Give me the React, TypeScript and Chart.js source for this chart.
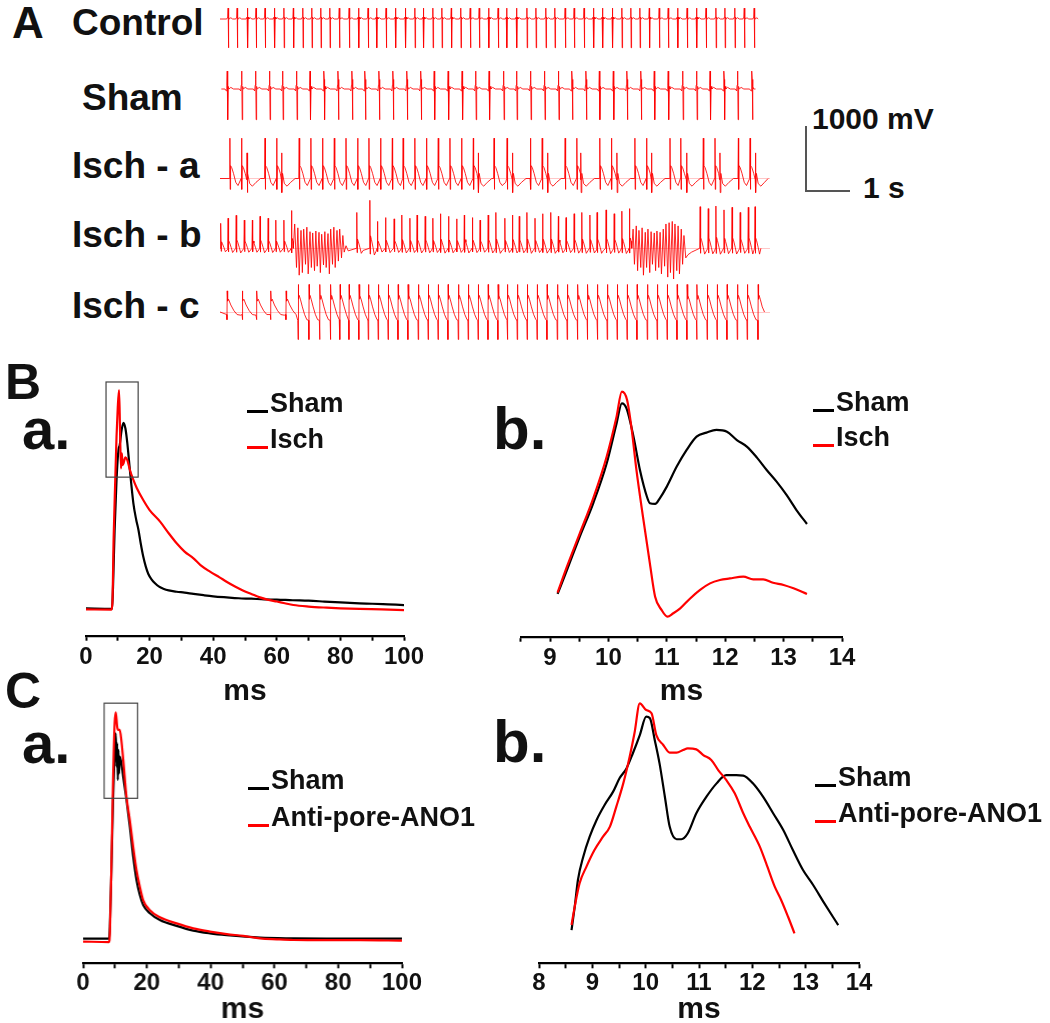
import React, { useEffect, useRef } from "react";
import { Chart, registerables } from "chart.js";

Chart.register(...registerables);

const FONT = '"Liberation Sans", Arial, Helvetica, sans-serif';
type Pt = [number, number];

// ---------- Panel A: ECG traces (time in s, amplitude in mV) ----------
const controlBeats = [0.18,0.38,0.61,0.80,1.00,1.21,1.42,1.63,1.84,2.04,2.24,2.44,2.65,2.87,3.08,3.29,3.48,3.69,3.90,4.12,4.33,4.52,4.73,4.93,5.14,5.35,5.56,5.76,5.97,6.18,6.37,6.59,6.82,7.02,7.24,7.44,7.67,7.87,8.09,8.30,8.50,8.72,8.93,9.13,9.33,9.54,9.76,9.96,10.17,10.38,10.59,10.80,11.02,11.22,11.44,11.65,11.87];
const shamBeats = [0.16,0.48,0.79,1.10,1.39,1.70,2.00,2.31,2.62,2.93,3.22,3.53,3.84,4.15,4.46,4.76,5.07,5.38,5.68,5.98,6.30,6.59,6.90,7.21,7.52,7.82,8.13,8.43,8.74,9.04,9.35,9.65,9.96,10.28,10.59,10.89,11.20,11.50,11.82];
const ischATall = [0.22,0.48,1.00,1.26,1.76,2.02,2.28,2.54,2.80,3.06,3.31,3.57,3.83,4.07,4.33,4.59,4.85,5.11,5.37,5.63,6.09,6.38,6.90,7.16,7.67,7.93,8.44,8.70,9.22,9.48,10.00,10.24,10.74,11.00,11.52,11.78];
const ischAShort = [0.60,1.37,5.74,6.50,7.28,8.02,8.82,9.59,10.37,11.11,11.90];
const ischBBeats = [0.02,0.18,0.36,0.54,0.72,0.89,1.07,1.24,1.42,1.59,3.04,3.33,3.50,3.68,3.87,4.04,4.22,4.38,4.56,4.73,4.90,5.08,5.26,5.43,5.61,5.78,5.96,6.13,6.33,6.50,6.65,6.82,7.00,7.17,7.35,7.52,7.69,7.87,8.04,8.22,8.38,8.58,8.76,8.93,9.10,10.67,10.85,11.02,11.20,11.38,11.56,11.74,11.89];
const ischBPeaks = [390,470,515,440,440,500,470,440,440,590,560,750,420,480,460,520,470,520,500,470,540,500,460,520,480,440,520,560,470,520,500,560,470,540,560,500,480,540,560,520,560,600,540,580,620,650,620,660,600,640,560,640,650];
const ischBFib1: Pt[] = [[1.63,0],[1.66,380],[1.70,-300],[1.73,320],[1.76,-420],[1.80,280],[1.83,-380],[1.86,300],[1.90,-250],[1.93,330],[1.96,-400],[2.00,260],[2.03,-300],[2.06,240],[2.10,-350],[2.13,270],[2.16,-280],[2.20,250],[2.23,-380],[2.26,220],[2.30,-260],[2.33,260],[2.36,-300],[2.40,230],[2.43,-400],[2.46,300],[2.50,-250],[2.53,330],[2.56,-300],[2.60,280],[2.63,-200],[2.66,300],[2.70,-150],[2.73,200],[2.76,-60],[2.80,40],[2.85,-40]];
const ischBFib2: Pt[] = [[9.15,0],[9.18,300],[9.21,-250],[9.25,350],[9.28,-350],[9.31,280],[9.35,-300],[9.38,320],[9.41,-420],[9.45,250],[9.48,-300],[9.51,300],[9.55,-380],[9.58,260],[9.61,-250],[9.65,240],[9.68,-350],[9.71,270],[9.75,-300],[9.78,250],[9.81,-400],[9.85,300],[9.88,-280],[9.91,380],[9.95,-450],[9.98,400],[10.01,-380],[10.05,420],[10.08,-480],[10.11,380],[10.15,-350],[10.18,350],[10.21,-400],[10.25,300],[10.28,-250],[10.31,200],[10.35,-150],[10.40,-100],[10.48,-60]];
const ischCEarly = [0.16,0.50,0.82,1.13,1.47];
const ischCBeats = [1.74,1.98,2.22,2.46,2.67,2.87,3.09,3.30,3.52,3.74,3.96,4.18,4.41,4.63,4.85,5.07,5.30,5.52,5.74,5.96,6.18,6.39,6.61,6.83,7.05,7.27,7.50,7.72,7.95,8.17,8.39,8.61,8.83,9.05,9.27,9.50,9.72,9.94,10.16,10.38,10.60,10.83,11.05,11.27,11.50,11.72,11.96];

// beat wave shapes: [offset s, mV]
const controlWave: Pt[] = [[-0.03,0],[-0.008,30],[0,170],[0.007,-450],[0.016,30],[0.03,0],[0.06,20],[0.1,0]];
const shamWave: Pt[] = [[-0.05,0],[-0.02,-30],[-0.008,60],[0,280],[0.008,150],[0.014,-480],[0.024,40],[0.04,0],[0.08,25],[0.14,0]];
const ischATallWave: Pt[] = [[-0.01,0],[0,630],[0.006,-170],[0.015,200],[0.04,170],[0.08,80],[0.13,-60],[0.18,-110],[0.26,-60],[0.36,-10]];
const ischAShortWave: Pt[] = [[-0.006,-20],[0,400],[0.006,-220],[0.02,80],[0.06,-80],[0.12,-120],[0.2,-60],[0.3,0]];
const ischBWave: Pt[] = [[-0.01,0],[0,500],[0.006,-60],[0.015,130],[0.035,90],[0.07,10],[0.1,-70],[0.14,-30]];
const ischCEarlyWave: Pt[] = [[-0.01,-40],[-0.005,-120],[0,330],[0.01,170],[0.03,200],[0.08,110],[0.15,20],[0.22,-40],[0.3,-50]];
const ischCWave: Pt[] = [[-0.012,-130],[-0.005,-430],[0,430],[0.008,200],[0.02,260],[0.05,190],[0.09,80],[0.14,-40],[0.19,-120]];

// recording spans (s)
const controlSpan: Pt = [0.0, 11.96];
const shamSpan: Pt = [0.03, 11.9];
const ischASpan: Pt = [0.0, 12.18];
const ischBSpan: Pt = [0.0, 12.02];
const ischCSpan: Pt = [0.0, 12.1];

// ---------- Panels B & C: action potentials (ms, normalized amplitude) ----------
const baSham: Pt[] = [[0,0],[8.2,-0.2],[8.5,9.9],[9.0,35.9],[9.6,58.8],[10.2,72.5],[10.6,74.8],[11.2,81.7],[11.8,85.0],[12.4,82.4],[13.0,75.6],[13.8,63.4],[14.9,48.1],[15.8,40.5],[16.5,35.9],[17.2,29.8],[18.0,23.7],[18.8,19.1],[19.6,15.7],[20.6,13.3],[21.7,11.5],[23,9.9],[24.3,9.0],[26,8.2],[28.5,7.6],[31,7.2],[33.8,6.6],[37,6.0],[40,5.5],[44.2,5.0],[48,4.6],[52,4.4],[56,4.1],[60,4.0],[65,3.7],[70,3.5],[75,3.1],[80,2.7],[86,2.3],[90,2.1],[95,1.8],[100,1.5]];
const baIsch: Pt[] = [[0,-0.5],[8.0,-0.6],[8.3,2.3],[8.7,32.8],[9.2,58.8],[9.6,78.6],[10.0,92.4],[10.4,100],[10.7,81.7],[11.0,64.1],[11.3,71.0],[11.5,65.6],[11.8,66.4],[12.4,69.2],[13.0,67.9],[13.8,63.4],[14.9,58.8],[16,55.0],[18,49.6],[20,45.0],[23.3,39.7],[26,34.4],[28.5,29.8],[31,26.0],[33.8,22.9],[36,19.8],[39,16.8],[42,14.2],[44.2,12.2],[47,9.9],[49.5,8.1],[52,6.6],[54.7,5.0],[57,4.0],[60,3.1],[62.5,2.3],[65.2,1.5],[70,0.8],[75.7,0.3],[80,0],[86,-0.3],[93,-0.5],[100,-0.8]];
const bbSham: Pt[] = [[9.13,10.1],[9.29,20.7],[9.51,35.6],[9.74,50.4],[9.97,68.1],[10.14,85.9],[10.23,94.8],[10.31,92.6],[10.43,80.0],[10.54,65.2],[10.66,53.3],[10.71,50.4],[10.80,50.1],[10.88,52.6],[11.00,57.8],[11.17,66.7],[11.34,74.1],[11.51,80.0],[11.68,81.8],[11.85,83.0],[12.03,82.2],[12.20,78.5],[12.37,75.6],[12.54,70.8],[12.71,65.2],[12.88,60.0],[13.05,54.1],[13.22,47.4],[13.40,41.2]];
const bbIsch: Pt[] = [[9.13,10.7],[9.29,22.2],[9.51,37.0],[9.74,52.6],[9.97,71.1],[10.14,88.9],[10.23,100],[10.32,96.3],[10.40,83.0],[10.48,65.2],[10.60,43.0],[10.71,23.7],[10.80,8.9],[10.91,3.0],[11.01,0],[11.11,1.5],[11.23,3.7],[11.40,8.1],[11.57,11.9],[11.74,14.8],[11.91,16.3],[12.08,17.0],[12.31,17.8],[12.48,16.6],[12.65,16.6],[12.82,15.1],[13.00,14.1],[13.17,12.6],[13.40,10.1]];
const caSham: Pt[] = [[0,0.3],[8.17,0.3],[8.4,5.6],[8.9,32.0],[9.4,61.4],[9.95,84.9],[10.26,90.7],[10.5,76.1],[10.7,86.3],[10.9,70.2],[11.1,83.4],[11.3,73.1],[11.52,80.5],[12.04,77.5],[12.57,71.7],[13.61,61.4],[14.66,49.6],[15.71,36.4],[16.75,26.1],[17.8,19.5],[18.85,15.1],[20.94,11.5],[24.08,8.5],[29.32,5.9],[34.55,3.8],[39.79,2.6],[45.03,1.8],[55.5,0.7],[65.97,0.4],[76.44,0.3],[86.91,0.3],[100,0.3]];
const caAnti: Pt[] = [[0,-1.0],[8.1,-1.2],[8.4,2.6],[8.9,33.5],[9.4,70.2],[9.9,95.2],[10.26,100],[10.7,93.7],[11.0,92.2],[11.5,92.2],[12.0,87.8],[12.6,79.0],[13.6,62.8],[14.66,52.5],[15.71,40.8],[16.75,30.5],[17.8,23.2],[18.85,17.3],[20.94,12.8],[24.08,9.7],[29.32,7.0],[34.55,4.8],[39.79,3.4],[45.03,2.3],[50.26,1.5],[55.5,0.4],[60.73,0],[65.97,-0.3],[76.44,-0.4],[86.91,-0.4],[100,-0.6]];
const cbSham: Pt[] = [[8.61,1.4],[8.67,11.6],[8.73,23.2],[8.83,33.3],[8.95,42.0],[9.08,49.3],[9.23,55.8],[9.39,61.6],[9.51,67.4],[9.64,71.7],[9.76,78.3],[9.89,86.2],[10.01,94.2],[10.08,93.5],[10.17,84.1],[10.26,73.9],[10.36,59.4],[10.45,46.4],[10.58,40.9],[10.67,40.9],[10.79,43.5],[10.95,52.2],[11.14,59.4],[11.33,65.2],[11.51,68.8],[11.70,68.8],[11.83,68.6],[12.01,65.2],[12.20,59.4],[12.39,52.2],[12.58,44.9],[12.76,36.2],[12.95,27.5],[13.14,21.0],[13.33,13.8],[13.51,7.2],[13.61,3.6]];
const cbAnti: Pt[] = [[8.61,3.6],[8.67,11.6],[8.76,21.7],[8.89,29.0],[9.04,36.2],[9.20,42.0],[9.33,46.4],[9.45,55.1],[9.58,65.2],[9.70,76.8],[9.79,87.0],[9.89,100],[10.01,97.1],[10.11,95.7],[10.20,86.2],[10.33,81.9],[10.45,78.6],[10.58,78.6],[10.70,79.7],[10.79,80.4],[10.95,80.0],[11.08,77.5],[11.23,75.4],[11.36,71.0],[11.51,66.7],[11.67,60.9],[11.83,52.2],[11.95,46.4],[12.14,37.7],[12.26,30.4],[12.42,20.3],[12.54,14.5],[12.67,7.2],[12.79,0]];

// zoom boxes [x0, x1, y0, y1]
const baBox = [6.3, 16.4, 60.1, 103.7];
const caBox = [6.6, 17.1, 62.1, 104.0];

// ---------- helpers ----------
const MV_PER_PX = 1000 / 64;
const S_PER_PX = 1 / 45;

type Ev = { t: number; pts: Pt[]; k: number };

function beatsToEvents(times: number[], wave: Pt[], peaks?: number[], ref = 1): Ev[] {
  return times.map((t, i) => ({ t, pts: wave, k: peaks ? peaks[i] / ref : 1 }));
}
function fibToEvent(f: Pt[]): Ev {
  const t0 = f[0][0];
  return { t: t0, pts: f.map(([x, y]) => [x - t0, y] as Pt), k: 1 };
}
function buildTrace(events: Ev[], span: Pt) {
  const ev = [...events].sort((a, b) => a.t - b.t);
  const out: { x: number; y: number }[] = [{ x: span[0], y: 0 }];
  ev.forEach((e, i) => {
    const next = i + 1 < ev.length ? ev[i + 1].t + ev[i + 1].pts[0][0] : span[1];
    e.pts.forEach(([o, v]) => {
      const x = e.t + o;
      if (x < next && x > out[out.length - 1].x) out.push({ x, y: v * e.k });
    });
  });
  out.push({ x: span[1], y: 0 });
  return out;
}

function EcgRow({ points, top, height, base, baseline }: { points: { x: number; y: number }[]; top: number; height: number; base: number; baseline: boolean }) {
  const ref = useRef<HTMLCanvasElement>(null);
  useEffect(() => {
    const ymax = (base - top) * MV_PER_PX;
    const ymin = -(top + height - base) * MV_PER_PX;
    const chart = new Chart(ref.current!, {
      type: "line",
      data: { datasets: [{ data: points, borderColor: "rgba(255,0,0,0.85)", borderWidth: 1, pointRadius: 0, tension: 0 }] },
      options: {
        animation: false,
        responsive: false,
        events: [],
        plugins: { legend: { display: false }, tooltip: { enabled: false } },
        scales: {
          x: { type: "linear", display: false, min: 0, max: 550 * S_PER_PX },
          y: {
            display: baseline,
            min: ymin,
            max: ymax,
            ticks: { display: false },
            border: { display: false },
            grid: { drawTicks: false, color: "rgba(255,0,0,0.22)", lineWidth: 1 },
            afterBuildTicks: (s: any) => { s.ticks = [{ value: 0 }]; },
          },
        },
      } as any,
    });
    return () => chart.destroy();
  }, []);
  return <canvas ref={ref} width={550} height={height} style={{ position: "absolute", left: 220, top, width: 550, height }} />;
}

type CurveProps = {
  left: number; top: number; width: number; height: number; padL: number; padR: number; axisH: number;
  xr: [number, number]; yr: [number, number]; step: number; every: number; tickPad: number;
  series: { data: Pt[]; color: string }[]; box?: number[];
};

function CurveChart(p: CurveProps) {
  const ref = useRef<HTMLCanvasElement>(null);
  useEffect(() => {
    const boxPlugin = {
      id: "zoombox",
      afterDatasetsDraw(chart: any) {
        if (!p.box) return;
        const { ctx, scales } = chart;
        const x0 = scales.x.getPixelForValue(p.box[0]);
        const x1 = scales.x.getPixelForValue(p.box[1]);
        const y0 = scales.y.getPixelForValue(p.box[2]);
        const y1 = scales.y.getPixelForValue(p.box[3]);
        ctx.save();
        ctx.strokeStyle = "#444";
        ctx.lineWidth = 1.2;
        ctx.strokeRect(x0, y1, x1 - x0, y0 - y1);
        ctx.restore();
      },
    };
    const chart = new Chart(ref.current!, {
      type: "line",
      data: {
        datasets: p.series.map((s) => ({
          data: s.data.map(([x, y]) => ({ x, y })),
          borderColor: s.color,
          borderWidth: 2.2,
          pointRadius: 0,
          cubicInterpolationMode: "monotone",
        })),
      },
      options: {
        animation: false,
        responsive: false,
        events: [],
        layout: { padding: { left: p.padL, right: p.padR, top: 0, bottom: 0 } },
        plugins: { legend: { display: false }, tooltip: { enabled: false } },
        scales: {
          x: {
            type: "linear",
            min: p.xr[0],
            max: p.xr[1],
            afterFit: (s: any) => { s.height = p.axisH; },
            border: { display: true, color: "#000", width: 2.2 },
            grid: { display: true, drawOnChartArea: false, drawTicks: true, tickLength: 5, tickWidth: 2, tickColor: "#000" },
            ticks: {
              stepSize: p.step,
              autoSkip: false,
              maxRotation: 0,
              padding: p.tickPad,
              color: "#111",
              font: { family: FONT, size: 24, weight: "bold" },
              callback: (v: any) => {
                const r = v / p.every;
                return Math.abs(r - Math.round(r)) < 1e-6 ? String(Math.round(v * 100) / 100) : "";
              },
            },
            title: { display: true, text: "ms", color: "#111", padding: 0, font: { family: FONT, size: 30, weight: "bold", lineHeight: 0.8 } },
          },
          y: { display: false, min: p.yr[0], max: p.yr[1] },
        },
      } as any,
      plugins: [boxPlugin],
    });
    return () => chart.destroy();
  }, []);
  return <canvas ref={ref} width={p.width} height={p.height} style={{ position: "absolute", left: p.left, top: p.top, width: p.width, height: p.height }} />;
}

function Label({ text, left, top, size }: { text: string; left: number; top: number; size: number }) {
  return (
    <div style={{ position: "absolute", left, top, fontFamily: FONT, fontWeight: "bold", fontSize: size, lineHeight: 1, whiteSpace: "nowrap", color: "#111" }}>
      {text}
    </div>
  );
}

function LegendItem({ x, baseline, text, color }: { x: number; baseline: number; text: string; color: string }) {
  return (
    <>
      <div style={{ position: "absolute", left: x, top: baseline - 3, width: 21, height: 2.5, background: color }} />
      <Label text={text} left={x + 23} top={baseline - 0.8465 * 27} size={27} />
    </>
  );
}

export default function App() {
  const control = buildTrace(beatsToEvents(controlBeats, controlWave), controlSpan);
  const sham = buildTrace(beatsToEvents(shamBeats, shamWave), shamSpan);
  const ischA = buildTrace([...beatsToEvents(ischATall, ischATallWave), ...beatsToEvents(ischAShort, ischAShortWave)], ischASpan);
  const ischB = buildTrace([...beatsToEvents(ischBBeats, ischBWave, ischBPeaks, 500), fibToEvent(ischBFib1), fibToEvent(ischBFib2)], ischBSpan);
  const ischC = buildTrace([...beatsToEvents(ischCEarly, ischCEarlyWave), ...beatsToEvents(ischCBeats, ischCWave)], ischCSpan);

  return (
    <div style={{ position: "absolute", left: 0, top: 0, width: 1050, height: 1023, overflow: "hidden", background: "#fff" }}>
      {/* Panel A */}
      <Label text="A" left={12} top={0.5} size={44} />
      <Label text="Control" left={72} top={3.9} size={37} />
      <Label text="Sham" left={82} top={78.9} size={37} />
      <Label text="Isch - a" left={72} top={146.9} size={37} />
      <Label text="Isch - b" left={72} top={215.9} size={37} />
      <Label text="Isch - c" left={72} top={286.9} size={37} />
      <EcgRow points={control} top={0} height={56} base={19} baseline={false} />
      <EcgRow points={sham} top={64} height={62} base={89} baseline={false} />
      <EcgRow points={ischA} top={130} height={70} base={178.5} baseline={true} />
      <EcgRow points={ischB} top={196} height={84} base={248.3} baseline={true} />
      <EcgRow points={ischC} top={276} height={72} base={312} baseline={true} />
      <div style={{ position: "absolute", left: 805, top: 126, width: 1.5, height: 65, background: "#555" }} />
      <div style={{ position: "absolute", left: 805, top: 190, width: 45, height: 1.5, background: "#555" }} />
      <Label text="1000 mV" left={812} top={104.4} size={30} />
      <Label text="1 s" left={863} top={172.9} size={30} />

      {/* Panel B */}
      <Label text="B" left={5} top={356.6} size={50} />
      <Label text="a." left={22} top={400} size={58} />
      <CurveChart left={56} top={375} width={378} height={329} padL={30} padR={30} axisH={68.3}
        xr={[0, 100]} yr={[-12.55, 106.9]} step={10} every={20} tickPad={2}
        series={[{ data: baIsch, color: "#ff0000" }, { data: baSham, color: "#000000" }]} box={baBox} />
      <LegendItem x={247} baseline={413} text="Sham" color="#000" />
      <LegendItem x={247} baseline={449} text="Isch" color="#ff0000" />

      <Label text="b." left={493} top={399} size={60} />
      <CurveChart left={490} top={375} width={382} height={329} padL={30.8} padR={30} axisH={67.3}
        xr={[8.5, 14]} yr={[-8.9, 107.4]} step={0.5} every={1} tickPad={2}
        series={[{ data: bbIsch, color: "#ff0000" }, { data: bbSham, color: "#000000" }]} />
      <LegendItem x={813} baseline={412} text="Sham" color="#000" />
      <LegendItem x={813} baseline={447} text="Isch" color="#ff0000" />

      {/* Panel C */}
      <Label text="C" left={5} top={665.6} size={50} />
      <Label text="a." left={22} top={714} size={58} />
      <CurveChart left={53.3} top={695} width={378.4} height={327} padL={30} padR={30} axisH={58.7}
        xr={[0, 100]} yr={[-10.57, 107.6]} step={10} every={20} tickPad={1}
        series={[{ data: caAnti, color: "#ff0000" }, { data: caSham, color: "#000000" }]} box={caBox} />
      <LegendItem x={248} baseline={790} text="Sham" color="#000" />
      <LegendItem x={248} baseline={827} text="Anti-pore-ANO1" color="#ff0000" />

      <Label text="b." left={493} top={712} size={60} />
      <CurveChart left={509.3} top={690} width={380} height={332} padL={30} padR={30} axisH={58.7}
        xr={[8, 14]} yr={[-13.04, 105.8]} step={0.5} every={1} tickPad={1}
        series={[{ data: cbAnti, color: "#ff0000" }, { data: cbSham, color: "#000000" }]} />
      <LegendItem x={815} baseline={787} text="Sham" color="#000" />
      <LegendItem x={815} baseline={823} text="Anti-pore-ANO1" color="#ff0000" />
    </div>
  );
}
